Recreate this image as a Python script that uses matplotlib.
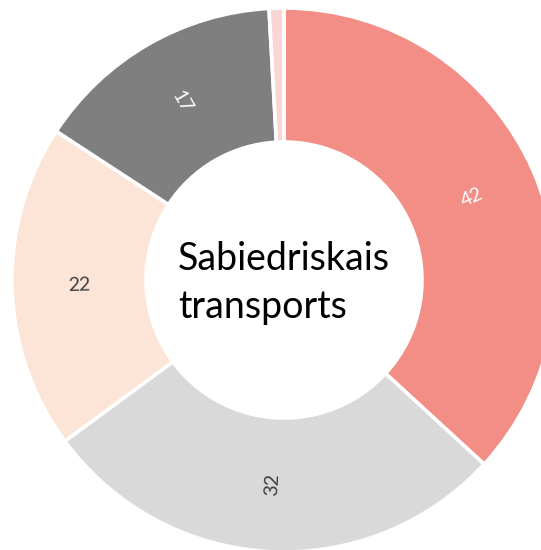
import numpy as np
import matplotlib
matplotlib.use("Agg")
import matplotlib.pyplot as plt

# slice values, clockwise from 12 o'clock
values = [42, 32, 22, 17, 1]
labels = ["42", "32", "22", "17", ""]
colors = ["#F28E86", "#D9D9D9", "#FCE4D6", "#7F7F7F", "#F9D6D5"]
label_colors = ["white", "#404040", "#404040", "white", "white"]
center_text = "Sabiedriskais\ntransports"

W, H = 541, 550
fig = plt.figure(figsize=(W / 100, H / 100), dpi=100)
ax = fig.add_axes([0, 0, 1, 1])

cx, cy = 284, H - 280
R, r = 272, 138

wedges, _ = ax.pie(values, colors=colors, startangle=90, counterclock=False,
                   radius=R, center=(cx, cy),
                   wedgeprops=dict(width=R - r, edgecolor="white", linewidth=2.6))

rm = (R + r) / 2
for w, lab, lc in zip(wedges, labels, label_colors):
    if not lab:
        continue
    mid = (w.theta1 + w.theta2) / 2
    x = cx + rm * np.cos(np.radians(mid))
    y = cy + rm * np.sin(np.radians(mid))
    rot = (mid + 180) % 360 - 180
    if rot > 90:
        rot -= 180
    elif rot < -90:
        rot += 180
    ax.text(x, y, lab, ha="center", va="center", rotation=rot,
            rotation_mode="anchor", color=lc, fontsize=14, family="Lato")

ax.text(178, H - 283, center_text, ha="left", va="center", fontsize=27,
        family="Lato", color="black", linespacing=1.4)

ax.set_xlim(0, W)
ax.set_ylim(0, H)
ax.set_aspect("equal")
ax.axis("off")

fig.savefig("out.png", dpi=100)
